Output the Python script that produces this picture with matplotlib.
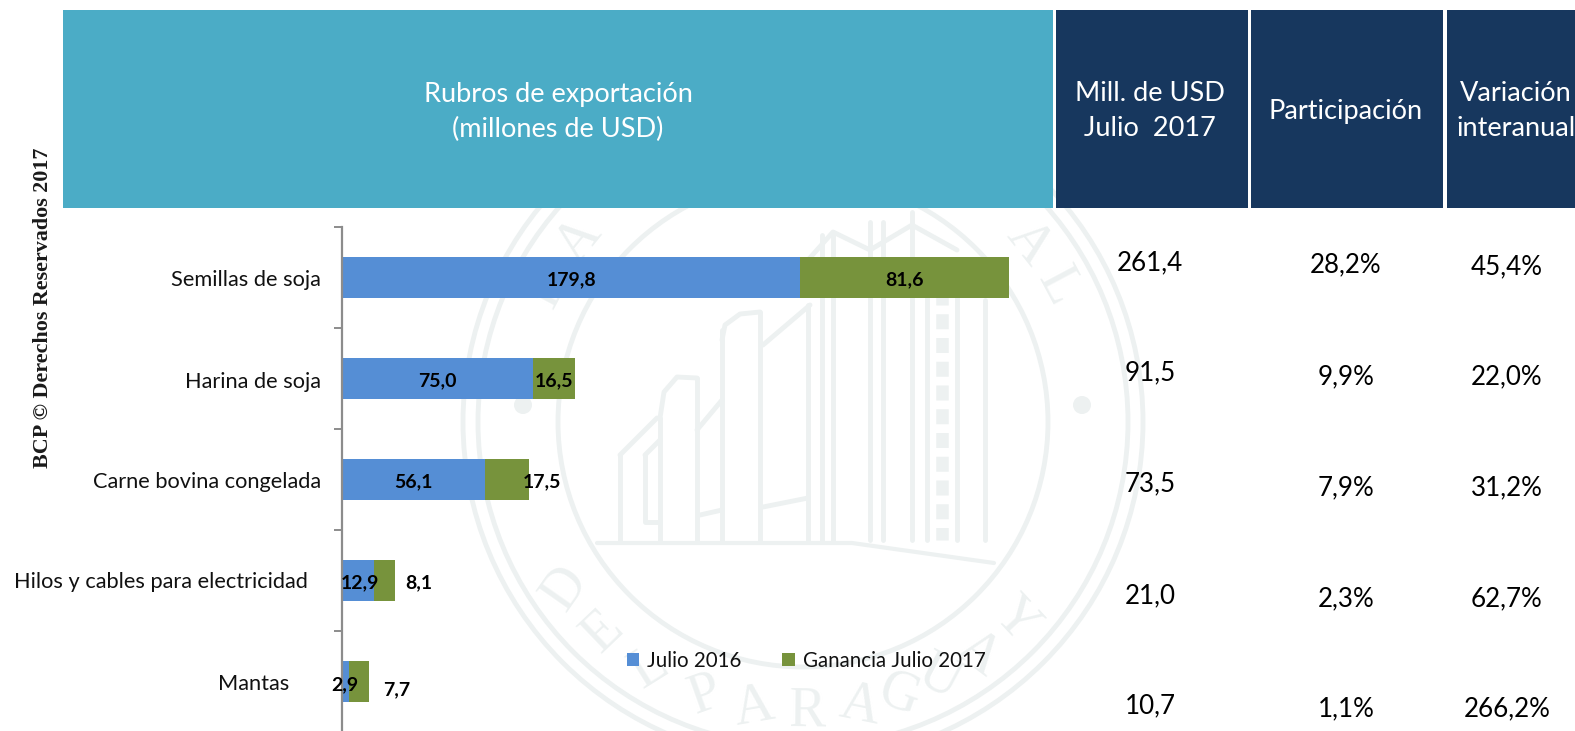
import numpy as np
import matplotlib
matplotlib.use("Agg")
import matplotlib.pyplot as plt
from matplotlib.patches import Rectangle, Circle
from matplotlib.transforms import ScaledTranslation

categories = ["Semillas de soja", "Harina de soja", "Carne bovina congelada",
              "Hilos y cables para electricidad", "Mantas"]
julio_2016 = [179.8, 75.0, 56.1, 12.9, 2.9]
ganancia_2017 = [81.6, 16.5, 17.5, 8.1, 7.7]
lab_2016 = ["179,8", "75,0", "56,1", "12,9", "2,9"]
lab_gan = ["81,6", "16,5", "17,5", "8,1", "7,7"]
mill_usd = ["261,4", "91,5", "73,5", "21,0", "10,7"]
particip = ["28,2%", "9,9%", "7,9%", "2,3%", "1,1%"]
variacion = ["45,4%", "22,0%", "31,2%", "62,7%", "266,2%"]

W, H = 1575, 731
FONT = "Lato"
BLUE, GREEN, TEAL, NAVY = "#558ed5", "#77933c", "#4bacc6", "#17375e"
WM = "#edf1f1"

fig = plt.figure(figsize=(W / 100, H / 100), dpi=100, facecolor="white")

# background layer in pixel coordinates
bg = fig.add_axes([0, 0, 1, 1], zorder=0)
bg.set_xlim(0, W); bg.set_ylim(H, 0); bg.axis("off")


def wm_line(xs, ys, lw=3.5, **kw):
    bg.plot(xs, ys, color=WM, lw=lw, zorder=1, solid_capstyle="round", **kw)


# watermark seal
cx, cy = 803, 422
for r in (245, 325, 340):
    bg.add_patch(Circle((cx, cy), r, fill=False, ec=WM, lw=3.5, zorder=1))
for xd in (523, 1082):
    bg.add_patch(Circle((xd, 405), 9, fc=WM, ec="none", zorder=1))
for x, top in [(620, 455), (660, 418), (697, 378), (722, 330), (760, 312),
               (808, 305), (822, 235), (833, 232), (870, 222), (883, 222), (912, 212),
               (985, 300)]:
    wm_line([x, x], [top, 540])
wm_line([645, 645, 660], [455, 522, 522])
wm_line([620, 657], [455, 418])
wm_line([645, 660], [455, 440])
wm_line([660, 664, 677, 697], [418, 392, 377, 378])
wm_line([697, 722], [430, 400])
wm_line([722, 725, 740, 760], [340, 325, 314, 312])
wm_line([763, 810], [345, 305])
wm_line([700, 722], [515, 510])
wm_line([763, 808], [507, 498])
wm_line([808, 833, 870, 912, 957], [260, 232, 250, 225, 250])
wm_line([597, 852, 994], [543, 543, 563], lw=3)
for x in (927, 957):
    wm_line([x, x], [290, 540])
bg.plot([942, 942], [290, 540], color=WM, lw=9, ls=(0, (1.2, 0.7)), zorder=1)

seal_low = "DEL PARAGUAY".replace(" ", "")
low_angles = [-55, -43.6, -32, -19.6, -9.7, 0.8, 11.3, 19.5, 28, 37, 47]
for ch, ang in zip(seal_low, low_angles):
    a = np.deg2rad(ang)
    bg.text(cx + 290 * np.sin(a), cy + 290 * np.cos(a), ch, rotation=-ang, color=WM,
            fontsize=40, family="Liberation Serif", ha="center", va="center", zorder=1)
for ch, ang in zip("BAAL", [-62, -51, 51.7, 62]):
    a = np.deg2rad(ang)
    bg.text(cx + 288 * np.sin(a), cy - 288 * np.cos(a), ch, rotation=-ang, color=WM,
            fontsize=40, family="Liberation Serif", ha="center", va="center", zorder=1)

# header blocks
bg.add_patch(Rectangle((63, 10), 990, 198, fc=TEAL, ec="none", zorder=2))
for x0, x1 in [(1056, 1248), (1250.5, 1443), (1447, 1575)]:
    bg.add_patch(Rectangle((x0, 10), x1 - x0, 198, fc=NAVY, ec="none", zorder=2))
hdr = dict(color="white", family=FONT, fontsize=19.5, ha="center", va="center", zorder=3, linespacing=1.5)
bg.text(558, 112, "Rubros de exportación\n(millones de USD)", **hdr)
bg.text(1150, 111, "Mill. de USD\nJulio  2017", **hdr)
bg.text(1346, 111, "Participación", **hdr)
bg.text(1516, 111, "Variación\ninteranual", clip_on=True, **hdr)

bg.text(43, 308, "BCP © Derechos Reservados 2017", rotation=90, family="Liberation Serif",
        weight="bold", fontsize=15.8, ha="center", va="center", color="#1a1a1a")

# table columns
col_x = [1150, 1346, 1507]
col_y = [[263, 373, 484, 596, 706], [265, 377, 488, 599, 709], [267, 377, 488, 599, 709]]
for xc, ys, vals in zip(col_x, col_y, [mill_usd, particip, variacion]):
    for y, v in zip(ys, vals):
        bg.text(xc, y, v, family=FONT, fontsize=18.7, ha="center", va="center", color="black", zorder=3)

# chart
left, right, top, bottom = 341.5, 1050, 227, 732
ax = fig.add_axes([left / W, 1 - bottom / H, (right - left) / W, (bottom - top) / H], zorder=2)
ax.patch.set_alpha(0)
pos = np.arange(len(categories))
b1 = ax.barh(pos, julio_2016, height=0.405, color=BLUE, label="Julio 2016")
b2 = ax.barh(pos, ganancia_2017, left=julio_2016, height=0.405, color=GREEN, label="Ganancia Julio 2017")
ax.set_xlim(0, (right - left) / 2.552)
ax.set_ylim(len(categories) - 0.5, -0.5)
for s in ["top", "right", "bottom"]:
    ax.spines[s].set_visible(False)
ax.spines["left"].set_color("#8c8c8c")
ax.spines["left"].set_linewidth(1.6)
ax.xaxis.set_visible(False)
ax.set_yticks(pos, categories)
ax.set_yticks(np.arange(len(categories) + 1) - 0.5, minor=True)
ax.tick_params(axis="y", which="major", length=0, pad=15, labelsize=15.7, labelcolor="#111111")
ax.tick_params(axis="y", which="minor", length=6, width=1.4, color="#8c8c8c")
label_dx = [0, 0, 0, -13, -31]
label_dy = [-2, -1, -1, -2, -2]
for lab, dx, dy in zip(ax.get_yticklabels(), label_dx, label_dy):
    lab.set_family(FONT)
    lab.set_transform(lab.get_transform() + ScaledTranslation(dx / 100, -dy / 100 - 0.02, fig.dpi_scale_trans))

off_a = [(1, 1), (0, 1), (0, 1), (2, 1), (0, 0)]
off_b = [(0, 1), (0, 1), (35, 1), (34, 1), (38, -5)]
for i in pos:
    for val, base, txt, off in [(julio_2016[i], 0, lab_2016[i], off_a[i]),
                                (ganancia_2017[i], julio_2016[i], lab_gan[i], off_b[i])]:
        ax.annotate(txt, xy=(base + val / 2, i), xytext=(off[0], off[1] - 3), textcoords="offset pixels",
                    ha="center", va="center", family=FONT, weight="bold", fontsize=14, color="black",
                    annotation_clip=False)

ax.legend(handles=[b1, b2], loc="center left", bbox_to_anchor=(608 / W, 1 - 661 / H),
          bbox_transform=fig.transFigure, ncol=2, frameon=False, prop=dict(family=FONT, size=14.8),
          handlelength=0.62, handleheight=0.62, handletextpad=0.4, columnspacing=1.95, labelcolor="#111111")

fig.savefig("out.png", dpi=100, facecolor="white")
